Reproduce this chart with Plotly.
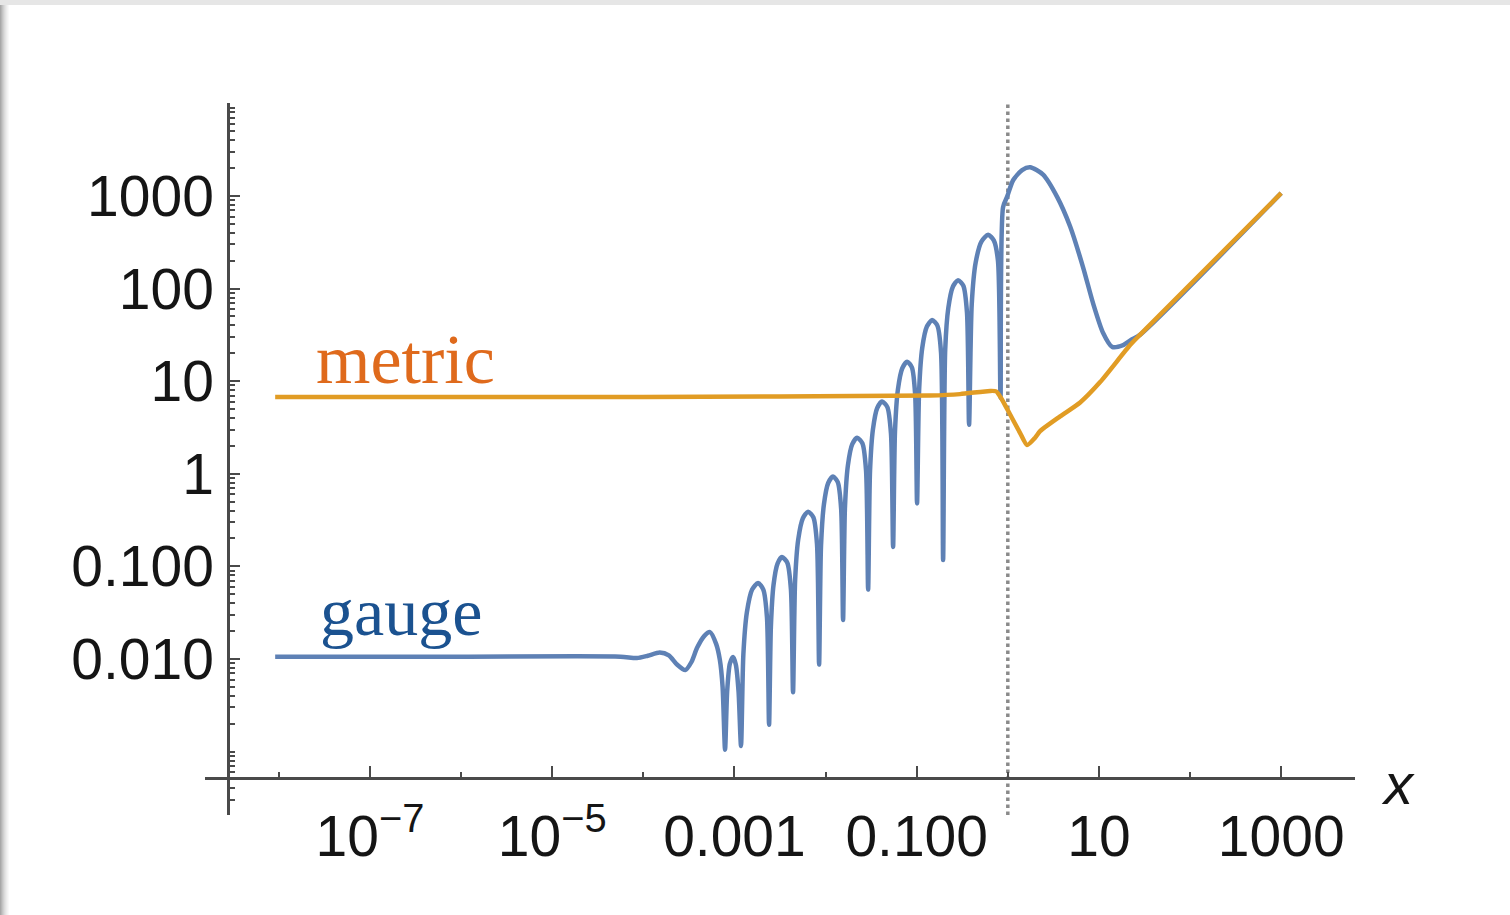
import plotly.graph_objects as go

# ---- data (values stored as log10 exponents) ----
gauge_log_x = [
    -8.04, -6.0, -4.25,
    -4.07, -3.95, -3.82, -3.72, -3.63, -3.54, -3.47, -3.41, -3.33, -3.268, -3.20, -3.16, -3.13,
    -3.103, -3.08, -3.05, -3.015, -2.985, -2.955, -2.928,
    -2.902, -2.864, -2.806, -2.741, -2.683, -2.643, -2.620,
    -2.600, -2.571, -2.527, -2.478, -2.420, -2.380, -2.357,
    -2.334, -2.300, -2.249, -2.192, -2.134, -2.094, -2.071,
    -2.050, -2.018, -1.971, -1.918, -1.866, -1.829, -1.808,
    -1.787, -1.755, -1.707, -1.654, -1.596, -1.556, -1.533,
    -1.512, -1.480, -1.433, -1.380, -1.322, -1.282, -1.259,
    -1.238, -1.206, -1.158, -1.105, -1.053, -1.017, -0.996,
    -0.973, -0.939, -0.888, -0.831, -0.773, -0.733, -0.710,
    -0.687, -0.653, -0.603, -0.546, -0.488, -0.448, -0.425,
    -0.396, -0.353, -0.288, -0.216, -0.154, -0.108, -0.080,
    -0.052, -0.008, 0.058, 0.157, 0.245, 0.387, 0.541, 0.684, 0.826, 0.936,
    1.046, 1.145, 1.266, 1.36, 1.45, 3.0,
]
gauge_log_y = [
    -1.975, -1.975, -1.975,
    -1.99, -1.965, -1.93, -1.96, -2.06, -2.12, -2.03, -1.88, -1.75, -1.71, -1.84, -2.01, -2.3,
    -2.98, -2.35, -2.05, -1.98, -2.06, -2.35, -2.94,
    -1.95, -1.50, -1.25, -1.18, -1.25, -1.55, -2.71,
    -1.65, -1.20, -0.97, -0.90, -0.96, -1.25, -2.36,
    -1.15, -0.71, -0.48, -0.41, -0.47, -0.76, -2.06,
    -0.78, -0.33, -0.10, -0.03, -0.09, -0.38, -1.58,
    -0.36, 0.09, 0.32, 0.39, 0.33, 0.04, -1.25,
    0.03, 0.48, 0.71, 0.78, 0.72, 0.43, -0.79,
    0.46, 0.91, 1.14, 1.21, 1.15, 0.86, -0.32,
    0.91, 1.36, 1.59, 1.66, 1.60, 1.31, -0.93,
    1.34, 1.79, 2.02, 2.09, 2.03, 1.74, 0.53,
    1.83, 2.28, 2.51, 2.58, 2.52, 2.30, 0.82,
    2.88, 2.99, 3.17, 3.28, 3.31, 3.23, 2.99, 2.67, 2.23, 1.84,
    1.52, 1.37, 1.39, 1.45, 1.50, 3.03,
]

metric_log_x = [-8.04, -4.0, -0.853, -0.524, -0.194, -0.128, -0.063, 0.025, 0.135, 0.212,
                0.30, 0.354, 0.574, 0.794, 1.013, 1.342, 1.45, 3.0]
metric_log_y = [0.83, 0.83, 0.845, 0.86, 0.895, 0.89, 0.80, 0.64, 0.44, 0.31,
                0.39, 0.46, 0.62, 0.77, 0.99, 1.39, 1.50, 3.03]

ref_line_x = 1  # dotted vertical reference line

x_tick_vals = [1e-7, 1e-5, 1e-3, 1e-1, 10, 1000]
x_tick_text = ["10<sup>\u22127</sup>", "10<sup>\u22125</sup>", "0.001", "0.100", "10", "1000"]
x_minor_vals = [1e-8, 1e-6, 1e-4, 1e-2, 1, 100]
y_tick_vals = [1e-2, 1e-1, 1, 10, 100, 1000]
y_tick_text = ["0.010", "0.100", "1", "10", "100", "1000"]

gauge_x = [10 ** v for v in gauge_log_x]
gauge_y = [10 ** v for v in gauge_log_y]
metric_x = [10 ** v for v in metric_log_x]
metric_y = [10 ** v for v in metric_log_y]

y_minor_vals = [k * 10.0 ** n for n in range(-4, 4) for k in range(1, 10)
                if not (k == 1 and n >= -2)]

# ---- layout geometry (pixels) ----
W, H = 1510, 915
ML, MR, MT, MB = 205, 155, 103, 100
PW, PH = W - ML - MR, H - MT - MB
XR = [-8.81, 3.81]
YR = [-3.685, 4.004]


def pxx(px):
    return (px - ML) / PW


def pxy(py):
    return (H - MB - py) / PH


AXC = "#4a4a4a"
TICKFONT = dict(family="Liberation Sans, Arial, sans-serif", size=57, color="#151515")

fig = go.Figure()
fig.add_trace(go.Scatter(x=[ref_line_x, ref_line_x], y=[10 ** YR[0], 10 ** YR[1]], mode="lines",
                         line=dict(color="#8a8a8a", width=3.5, dash="dot"), showlegend=False,
                         hoverinfo="skip"))
fig.add_trace(go.Scatter(x=gauge_x, y=gauge_y, mode="lines",
                         line=dict(color="#5E81B5", width=4.5, shape="spline", smoothing=0.7),
                         showlegend=False))
fig.add_trace(go.Scatter(x=metric_x, y=metric_y, mode="lines",
                         line=dict(color="#E19C24", width=4.5, shape="spline", smoothing=0.6),
                         showlegend=False))

shapes = []
# slide frame shadow (left gradient + top band)
left_cols = ["#a8a8a8", "#b6b6b6", "#c4c4c4", "#d0d0d0", "#dbdbdb", "#e4e4e4",
             "#ececec", "#f3f3f3", "#f9f9f9"]
for i, c in enumerate(left_cols):
    shapes.append(dict(type="rect", xref="paper", yref="paper",
                       x0=pxx(i), x1=pxx(i + 1), y0=pxy(H), y1=pxy(5),
                       fillcolor=c, line=dict(width=0), layer="below"))
shapes.append(dict(type="rect", xref="paper", yref="paper",
                   x0=pxx(0), x1=pxx(W), y0=pxy(5), y1=pxy(0),
                   fillcolor="#e6e6e6", line=dict(width=0), layer="below"))

annotations = [
    dict(text="metric", xref="paper", yref="paper", x=pxx(405), y=pxy(359),
         xanchor="center", yanchor="middle", showarrow=False,
         font=dict(family="Liberation Serif, serif", size=70, color="#DF6A1C")),
    dict(text="gauge", xref="paper", yref="paper", x=pxx(401), y=pxy(612),
         xanchor="center", yanchor="middle", showarrow=False,
         font=dict(family="Liberation Serif, serif", size=68, color="#1B5290")),
    dict(text="<i>x</i>", xref="paper", yref="paper", x=pxx(1398), y=pxy(783),
         xanchor="center", yanchor="middle", showarrow=False,
         font=dict(family="Liberation Sans, Arial, sans-serif", size=58, color="#151515")),
]

fig.update_layout(
    width=W, height=H, autosize=False,
    margin=dict(l=ML, r=MR, t=MT, b=MB, pad=0),
    paper_bgcolor="white", plot_bgcolor="white",
    shapes=shapes, annotations=annotations,
    xaxis=dict(type="log", range=XR, anchor="free", position=pxy(778),
               showline=True, linecolor=AXC, linewidth=2.5, showgrid=False, zeroline=False,
               tickmode="array", tickvals=x_tick_vals, ticktext=x_tick_text,
               ticks="inside", ticklen=11, tickwidth=2, tickcolor=AXC,
               tickfont=TICKFONT, ticklabelstandoff=8,
               minor=dict(tickmode="array", tickvals=x_minor_vals, ticks="inside",
                          ticklen=5, tickwidth=2, tickcolor=AXC)),
    yaxis=dict(type="log", range=YR, anchor="free", position=pxx(228),
               showline=True, linecolor=AXC, linewidth=2.5, showgrid=False, zeroline=False,
               tickmode="array", tickvals=y_tick_vals, ticktext=y_tick_text,
               ticks="inside", ticklen=10, tickwidth=2, tickcolor=AXC,
               tickfont=TICKFONT, ticklabelstandoff=2,
               minor=dict(tickmode="array", tickvals=y_minor_vals, ticks="inside",
                          ticklen=5, tickwidth=1.5, tickcolor=AXC)),
)

fig.write_html("out.html")
